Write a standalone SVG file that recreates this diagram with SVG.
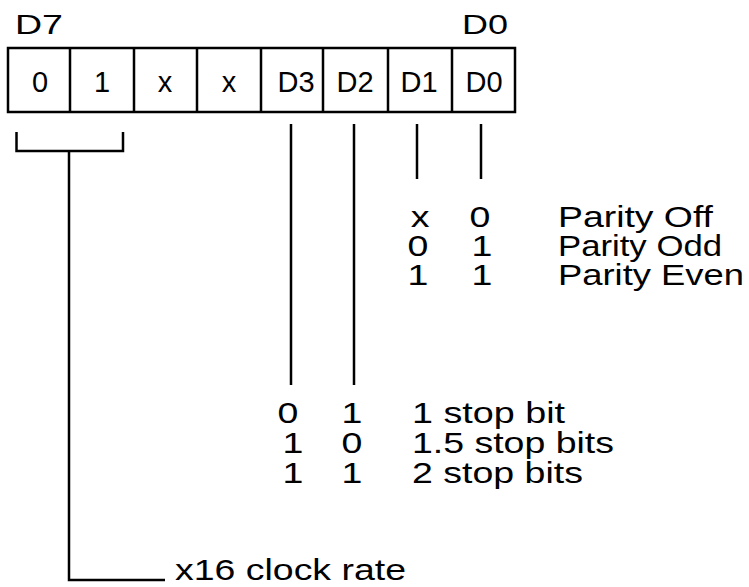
<svg xmlns="http://www.w3.org/2000/svg" width="749" height="587" viewBox="0 0 749 587">
<style>
text{font-family:"Liberation Sans",Arial,sans-serif;fill:#000}
.hd{font-size:28px}
.cell{font-size:29px;text-anchor:middle}
.lbl{font-size:30px}
.dig{font-size:30px;text-anchor:middle}
.ln{stroke:#000;stroke-width:2.5;fill:none}
.bx{stroke:#000;stroke-width:2.5;fill:#fff}
</style>
<rect width="749" height="587" fill="#fff"/>
<g id="headers">
<text class="hd" x="15" y="34" textLength="48" lengthAdjust="spacingAndGlyphs">D7</text>
<text class="hd" x="462" y="34" textLength="46" lengthAdjust="spacingAndGlyphs">D0</text>
</g>
<g id="register">
<rect class="bx" x="8" y="48" width="507" height="64"/>
<path class="ln" d="M70 48V112M134 48V112M197 48V112M261 48V112M323 48V112M388 48V112M452 48V112"/>
<text class="cell" x="40" y="92">0</text>
<text class="cell" x="102" y="92">1</text>
<text class="cell" x="165" y="92">x</text>
<text class="cell" x="229" y="92">x</text>
<text class="cell" x="296" y="92">D3</text>
<text class="cell" x="355" y="92">D2</text>
<text class="cell" x="419" y="92">D1</text>
<text class="cell" x="484" y="92">D0</text>
</g>
<g id="connectors">
<path class="ln" d="M16.5 132V151H123V132"/>
<path class="ln" d="M69 151V580H165"/>
<path class="ln" d="M291 124V385"/>
<path class="ln" d="M354 124V385"/>
<path class="ln" d="M417 124V179"/>
<path class="ln" d="M481 124V179"/>
</g>
<g id="parity">
<text class="dig" transform="translate(420,227) scale(1.25,1)">x</text>
<text class="dig" transform="translate(480,227) scale(1.25,1)">0</text>
<text class="lbl" x="558" y="227" textLength="155" lengthAdjust="spacingAndGlyphs">Parity Off</text>
<text class="dig" transform="translate(418,256) scale(1.25,1)">0</text>
<text class="dig" transform="translate(482,256) scale(1.25,1)">1</text>
<text class="lbl" x="558" y="256" textLength="164" lengthAdjust="spacingAndGlyphs">Parity Odd</text>
<text class="dig" transform="translate(418,285) scale(1.25,1)">1</text>
<text class="dig" transform="translate(482,285) scale(1.25,1)">1</text>
<text class="lbl" x="558" y="285" textLength="186" lengthAdjust="spacingAndGlyphs">Parity Even</text>
</g>
<g id="stopbits">
<text class="dig" transform="translate(288,423) scale(1.25,1)">0</text>
<text class="dig" transform="translate(352,423) scale(1.25,1)">1</text>
<text class="lbl" x="412" y="423" textLength="153" lengthAdjust="spacingAndGlyphs">1 stop bit</text>
<text class="dig" transform="translate(293,453) scale(1.25,1)">1</text>
<text class="dig" transform="translate(352,453) scale(1.25,1)">0</text>
<text class="lbl" x="412" y="453" textLength="202" lengthAdjust="spacingAndGlyphs">1.5 stop bits</text>
<text class="dig" transform="translate(293,483) scale(1.25,1)">1</text>
<text class="dig" transform="translate(352,483) scale(1.25,1)">1</text>
<text class="lbl" x="412" y="483" textLength="171" lengthAdjust="spacingAndGlyphs">2 stop bits</text>
</g>
<g id="clock">
<text class="lbl" x="175" y="580" textLength="231" lengthAdjust="spacingAndGlyphs">x16 clock rate</text>
</g>
</svg>
